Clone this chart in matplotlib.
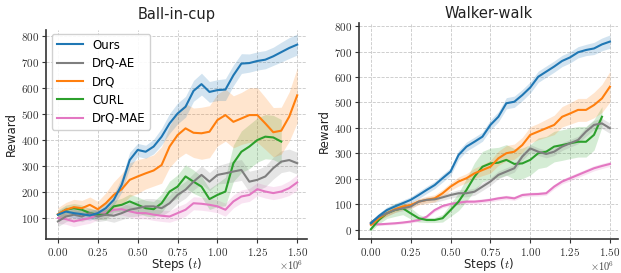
import matplotlib
matplotlib.use("Agg")
import matplotlib.pyplot as plt
import numpy as np

plt.rcParams['mathtext.fontset'] = 'cm'

steps = np.linspace(0, 1.5, 31) * 1e6
labels = ['Ours', 'DrQ-AE', 'DrQ', 'CURL', 'DrQ-MAE']
colors = ['#1f77b4', '#7f7f7f', '#ff7f0e', '#2ca02c', '#e377c2']

# Ball-in-cup
cup_ours = [113, 125, 119, 115, 110, 119, 138, 170, 228, 323, 362, 355, 375, 413, 464, 502,
            528, 589, 615, 585, 592, 594, 649, 694, 696, 704, 709, 722, 738, 754, 767]
cup_ours_sd = [15, 18, 18, 18, 18, 18, 20, 22, 28, 30, 25, 25, 28, 32, 38, 40,
               40, 40, 42, 40, 40, 42, 40, 38, 35, 35, 35, 35, 38, 40, 40]
cup_drqae = [87, 106, 113, 106, 119, 106, 113, 109, 119, 132, 138, 145, 145, 138, 157, 189,
             209, 240, 266, 240, 266, 272, 279, 285, 240, 247, 260, 292, 317, 323, 311]
cup_drqae_sd = [20, 20, 20, 20, 20, 20, 22, 25, 25, 28, 30, 30, 30, 30, 30, 32,
                32, 32, 35, 35, 35, 38, 40, 40, 40, 40, 40, 42, 42, 42, 42]
cup_drq = [115, 132, 142, 138, 151, 134, 157, 189, 211, 247, 260, 272, 283, 304, 375, 419,
           445, 428, 426, 432, 477, 496, 470, 483, 496, 496, 464, 430, 436, 490, 572]
cup_drq_sd = [25, 28, 30, 30, 30, 30, 40, 50, 60, 65, 65, 60, 60, 70, 80, 90,
              95, 95, 100, 100, 100, 100, 100, 100, 105, 105, 100, 95, 90, 95, 105]
cup_curl = [113, 132, 138, 132, 119, 113, 113, 145, 151, 164, 151, 138, 134, 157, 202, 221,
            260, 240, 221, 173, 189, 202, 311, 355, 375, 400, 413, 410, 394]
cup_curl_sd = [18, 18, 18, 18, 18, 18, 20, 22, 25, 28, 30, 30, 30, 35, 40, 45,
               45, 45, 40, 40, 45, 55, 70, 80, 85, 85, 85, 85, 85]
cup_mae = [100, 96, 87, 94, 100, 113, 119, 132, 134, 126, 119, 119, 113, 109, 106, 119,
           132, 157, 155, 151, 145, 132, 164, 183, 189, 211, 202, 196, 202, 215, 237]
cup_mae_sd = [20, 20, 20, 20, 20, 20, 20, 20, 22, 22, 22, 22, 22, 22, 22, 25,
              25, 25, 25, 25, 25, 25, 25, 25, 25, 25, 25, 25, 25, 28, 30]

# Walker-walk
walk_ours = [26, 55, 78, 92, 105, 118, 137, 157, 176, 203, 229, 294, 327, 346, 366, 412,
             444, 497, 503, 529, 559, 601, 621, 641, 663, 677, 697, 706, 712, 728, 739]
walk_ours_sd = [8, 10, 12, 12, 12, 12, 14, 14, 14, 15, 15, 18, 18, 18, 18, 20,
                20, 22, 22, 22, 22, 22, 22, 22, 22, 22, 22, 22, 24, 25, 26]
walk_drqae = [29, 52, 65, 78, 85, 92, 111, 118, 120, 128, 137, 144, 144, 150, 170, 190,
              216, 229, 242, 288, 320, 307, 298, 307, 327, 340, 353, 386, 412, 418, 399]
walk_drqae_sd = [8, 10, 10, 10, 10, 10, 10, 10, 12, 12, 12, 14, 14, 14, 15, 15,
                 15, 15, 15, 15, 15, 15, 15, 15, 15, 15, 15, 18, 18, 20, 20]
walk_drq = [20, 46, 65, 81, 92, 98, 111, 118, 124, 144, 170, 190, 203, 222, 235, 248,
            281, 301, 307, 333, 373, 386, 399, 412, 444, 457, 471, 471, 490, 516, 562]
walk_drq_sd = [8, 10, 12, 12, 12, 12, 12, 14, 14, 15, 15, 18, 18, 20, 22, 25,
               28, 30, 30, 30, 32, 32, 35, 38, 40, 42, 45, 45, 50, 55, 60]
walk_curl = [3, 39, 65, 78, 85, 65, 46, 39, 39, 46, 78, 111, 157, 209, 248, 261,
             264, 275, 259, 261, 275, 301, 307, 327, 333, 340, 346, 346, 373, 444]
walk_curl_sd = [8, 15, 20, 25, 25, 22, 15, 10, 10, 15, 25, 35, 45, 55, 60, 60,
                60, 60, 60, 60, 60, 60, 60, 60, 60, 60, 60, 60, 60, 40]
walk_mae = [24, 22, 24, 26, 29, 33, 39, 52, 78, 94, 102, 107, 111, 111, 114, 118,
            124, 128, 124, 137, 140, 141, 144, 170, 190, 203, 216, 229, 242, 251, 259]
walk_mae_sd = [5, 5, 5, 5, 5, 6, 6, 6, 7, 7, 8, 8, 8, 8, 8, 8,
               8, 8, 8, 8, 8, 8, 8, 9, 9, 10, 10, 10, 10, 10, 10]

cup = [(cup_ours, cup_ours_sd), (cup_drqae, cup_drqae_sd), (cup_drq, cup_drq_sd),
       (cup_curl, cup_curl_sd), (cup_mae, cup_mae_sd)]
walk = [(walk_ours, walk_ours_sd), (walk_drqae, walk_drqae_sd), (walk_drq, walk_drq_sd),
        (walk_curl, walk_curl_sd), (walk_mae, walk_mae_sd)]

fig = plt.figure(figsize=(6.21, 2.73), dpi=100)
ax1 = fig.add_axes([0.074, 0.125, 0.420, 0.765])
ax2 = fig.add_axes([0.578, 0.125, 0.417, 0.789])


def draw(ax, runs, title, ylim, yticks, xmax, tpad):
    # draw in reverse so Ours ends on top
    order = [4, 3, 1, 2, 0]
    for i in order:
        m, s = np.array(runs[i][0], float), np.array(runs[i][1], float)
        x = steps[:len(m)]
        ax.fill_between(x, m - s, m + s, color=colors[i], alpha=0.2, lw=0)
    for i in order:
        m = runs[i][0]
        ax.plot(steps[:len(m)], m, color=colors[i], lw=1.5, label=labels[i], zorder=3 + (4 - i))
    ax.set_xlim(-0.075e6, xmax)
    ax.set_ylim(*ylim)
    ax.set_yticks(yticks)
    ax.set_xticks(np.linspace(0, 1.5, 7) * 1e6)
    ax.set_xticklabels([r'$%.2f$' % v for v in np.linspace(0, 1.5, 7)])
    ax.set_yticklabels([r'$%d$' % v for v in yticks])
    ax.tick_params(labelsize=8, length=3, color='#333333', labelcolor='#333333', pad=2)
    ax.grid(True, ls='--', lw=0.6, color='#c8c8c8')
    ax.set_axisbelow(True)
    for sp in ['top', 'right']:
        ax.spines[sp].set_visible(False)
    for sp in ['left', 'bottom']:
        ax.spines[sp].set_color('#333333')
        ax.spines[sp].set_linewidth(1.2)
    ax.set_title(title, fontsize=10.5, color='#222222', pad=tpad)
    ax.set_ylabel('Reward', fontsize=8.5, color='#222222', labelpad=2)
    ax.set_xlabel(r'Steps ($t$)', fontsize=8.5, color='#222222', labelpad=-1)
    ax.text(0.985, -0.128, r'$\times10^{6}$', transform=ax.transAxes, ha='right', va='center',
            fontsize=7.5, color='#444444')


draw(ax1, cup, 'Ball-in-cup', (20, 823), [100, 200, 300, 400, 500, 600, 700, 800], 1.56e6, 8)
draw(ax2, walk, 'Walker-walk', (-35, 810), [0, 100, 200, 300, 400, 500, 600, 700, 800], 1.55e6, 4)

h, l = ax1.get_legend_handles_labels()
idx = [l.index(n) for n in labels]
ax1.legend([h[i] for i in idx], labels, loc='upper left', fontsize=8.5, frameon=True,
           fancybox=True, edgecolor='#cccccc', framealpha=0.9, borderpad=0.4,
           labelspacing=0.45, handlelength=2.2, bbox_to_anchor=(0.0, 1.01))

fig.savefig('out.png', dpi=100)
